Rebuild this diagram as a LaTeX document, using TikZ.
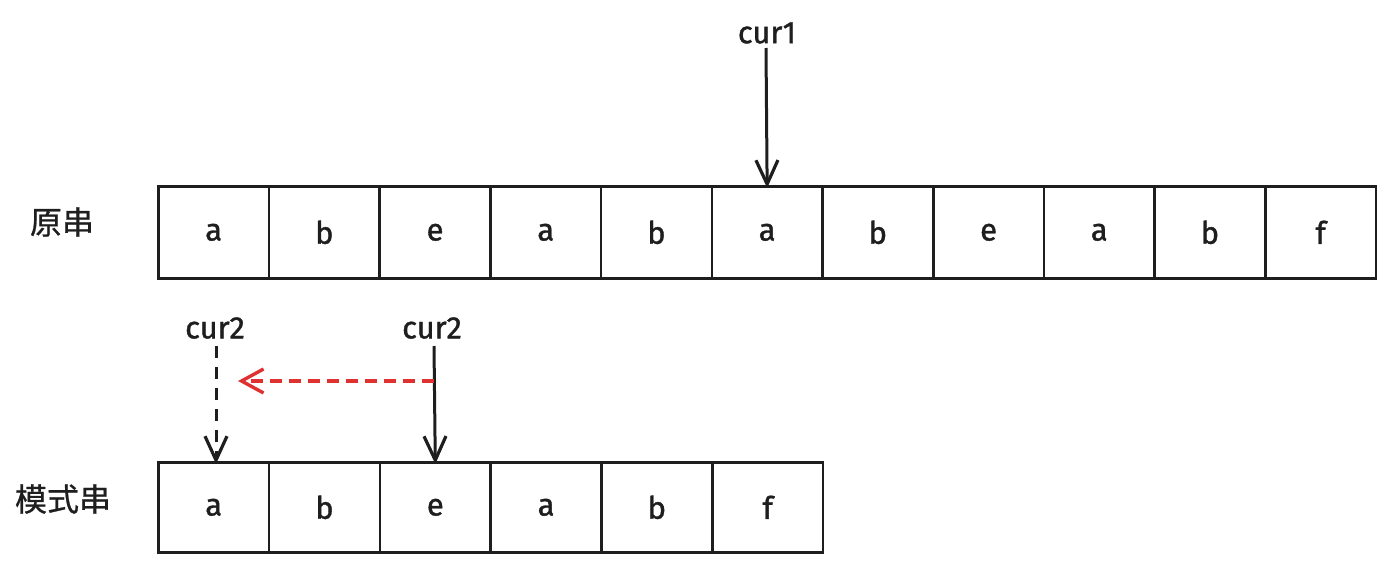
\documentclass[tikz,border=0pt]{standalone}
\usepackage{fontspec}
\setmainfont{Fira Sans}[FakeBold=1.2]
\newfontfamily\cjk{Noto Sans CJK SC}[FakeBold=0.8]
\usetikzlibrary{arrows.meta}
\definecolor{exred}{HTML}{E03131}
\definecolor{ink}{HTML}{1E1E1E}
\begin{document}
\begin{tikzpicture}[x=1pt,y=-1pt,
  cell/.style={draw=ink,line width=2.6pt,minimum width=110.7pt,minimum height=92pt,inner sep=0pt,font=\fontsize{31}{36}\selectfont,text=ink,anchor=north west},
  cellb/.style={cell,minimum width=110.8pt,minimum height=90pt},
  lbl/.style={font=\fontsize{31}{36}\selectfont,text=ink,inner sep=0pt},
  cjklbl/.style={font=\cjk\fontsize{32}{36}\selectfont,text=ink,inner sep=0pt},
  ptr/.style={draw=ink,line width=3pt,-{Straight Barb[length=24pt,width=22pt,line width=3.2pt]}},
  dptr/.style={ptr,dash pattern=on 12pt off 9pt},
  rptr/.style={draw=exred,line width=3.2pt,dash pattern=on 12pt off 7pt,-{Straight Barb[length=22pt,width=24pt,line width=3.4pt]}}]
\useasboundingbox (0,0) rectangle (1384,562);
% top row
\foreach \t [count=\i from 0] in {a,b,e,a,b,a,b,e,a,b,f}{
  \node[cell] (s\i) at ({157+\i*110.7},185) {\t};
}
% bottom row
\foreach \t [count=\i from 0] in {a,b,e,a,b,f}{
  \node[cellb] (p\i) at ({157+\i*110.8},461) {\t};
}
\node[cjklbl] (l1) at (62,222) {原串};
\node[cjklbl] (l2) at (63,499) {模式串};
\node[lbl] (c1) at (767,33) {cur1};
\node[lbl] (c2a) at (215,328) {cur2};
\node[lbl] (c2b) at (432,328) {cur2};
\coordinate (c1s) at (766,48);
\draw[ptr] (c1s) -- ([yshift=-3pt]s5.north);
\coordinate (c2as) at (216,346);
\draw[dptr] (c2as) -- ([yshift=-3pt]p0.north -| c2as);
\coordinate (c2bs) at (434,346);
\draw[ptr] (c2bs) -- ([yshift=-3pt]p2.north);
\coordinate (rs) at (434,381);
\coordinate (re) at (238,381);
\draw[rptr] (rs) -- (re);
\end{tikzpicture}
\end{document}
